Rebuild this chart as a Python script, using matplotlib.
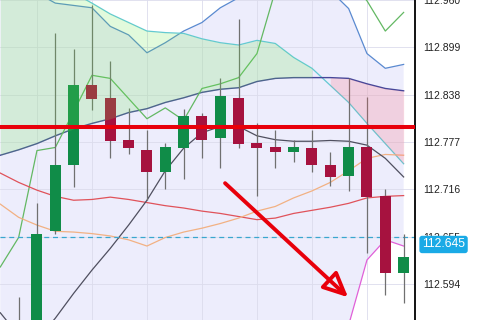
import matplotlib.pyplot as plt
import numpy as np

plt.rcParams['font.family'] = ['Liberation Sans', 'DejaVu Sans']

# candles, slots 1..22 (slot 0 is the left edge of the chart)
idx = np.arange(1, 23)
opens  = [112.500, 112.520, 112.663, 112.748, 112.851, 112.834, 112.780, 112.767, 112.739, 112.769, 112.810,
          112.782, 112.834, 112.776, 112.770, 112.764, 112.769, 112.748, 112.733, 112.771, 112.708, 112.608]
highs  = [112.577, 112.699, 112.917, 112.897, 112.953, 112.881, 112.821, 112.792, 112.776, 112.820, 112.814,
          112.859, 112.935, 112.802, 112.793, 112.779, 112.792, 112.764, 112.859, 112.835, 112.716, 112.658]
lows   = [112.480, 112.500, 112.659, 112.719, 112.818, 112.757, 112.761, 112.702, 112.717, 112.730, 112.756,
          112.744, 112.769, 112.708, 112.743, 112.751, 112.739, 112.720, 112.714, 112.634, 112.580, 112.570]
closes = [112.530, 112.658, 112.747, 112.850, 112.832, 112.778, 112.769, 112.739, 112.771, 112.810, 112.780,
          112.836, 112.775, 112.769, 112.764, 112.770, 112.748, 112.732, 112.770, 112.706, 112.608, 112.629]

# indicator lines, slots 0..22
slots = np.arange(0, 23)
bb_upper = [112.998, 112.985, 112.969, 112.956, 112.953, 112.950, 112.926, 112.915, 112.892, 112.905, 112.920, 112.931,
            112.950, 112.963, 112.978, 112.991, 112.998, 112.991, 112.972, 112.949, 112.891, 112.872, 112.877]
bb_lower = [112.471, 112.458, 112.445, 112.445, 112.451, 112.458, 112.464, 112.471, 112.477, 112.483, 112.490, 112.496,
            112.496, 112.503, 112.503, 112.509, 112.509, 112.516, 112.522, 112.541, 112.625, 112.651, 112.643]
span_a = [113.036, 113.017, 112.998, 112.982, 112.969, 112.956, 112.942, 112.931, 112.920, 112.918, 112.917, 112.910,
          112.905, 112.902, 112.908, 112.904, 112.886, 112.872, 112.850, 112.828, 112.801, 112.775, 112.749]
span_b = [112.760, 112.767, 112.775, 112.785, 112.794, 112.801, 112.807, 112.815, 112.820, 112.828, 112.834, 112.841,
          112.845, 112.847, 112.855, 112.859, 112.860, 112.860, 112.860, 112.859, 112.852, 112.846, 112.843]
tenkan = [112.616, 112.654, 112.766, 112.770, 112.816, 112.863, 112.859, 112.833, 112.807, 112.821, 112.805, 112.846,
          112.852, 112.860, 112.891, 112.972, 113.010, 113.023, 113.010, 112.985, 112.959, 112.920, 112.944]
ma_red = [112.737, 112.725, 112.715, 112.707, 112.702, 112.703, 112.706, 112.703, 112.699, 112.695, 112.692, 112.688,
          112.685, 112.681, 112.677, 112.679, 112.685, 112.689, 112.693, 112.698, 112.705, 112.707, 112.708]
ma_tan = [112.697, 112.680, 112.670, 112.662, 112.661, 112.659, 112.656, 112.651, 112.643, 112.654, 112.661, 112.666,
          112.672, 112.679, 112.688, 112.694, 112.705, 112.714, 112.725, 112.740, 112.756, 112.761, 112.760]
lag_line = [112.557, 112.528, 112.522, 112.550, 112.582, 112.612, 112.640, 112.670, 112.702, 112.740, 112.769, 112.789,
            112.797, 112.797, 112.785, 112.780, 112.778, 112.778, 112.779, 112.778, 112.773, 112.756, 112.732]

level = 112.797
last_price = 112.654
last_label = 112.645
price_ticks = [112.594, 112.655, 112.716, 112.777, 112.838, 112.899, 112.960]

fig = plt.figure(figsize=(4.78, 3.2), dpi=100)
ax = fig.add_axes([0, 0, 415 / 478, 1])

a = np.array(span_a)
b = np.array(span_b)

# bollinger band background
ax.fill_between(slots, bb_lower, bb_upper, color='#ededfc', lw=0, zorder=0.2)
ax.plot(slots, bb_upper, color='#5a8ad0', lw=0.9, zorder=1)
ax.plot(slots, bb_lower, color='#e060d8', lw=0.9, zorder=1)

ax.plot(slots, span_a, color='#63c9d3', lw=0.9, zorder=1)
ax.plot(slots, span_b, color='#45479a', lw=1.0, zorder=1)
ax.plot(slots, tenkan, color='#63b863', lw=0.9, zorder=1)
ax.plot(slots, ma_red, color='#e0525a', lw=0.9, zorder=1)
ax.plot(slots, ma_tan, color='#f2b183', lw=0.9, zorder=1)
ax.plot(slots, lag_line, color='#4f4f5f', lw=0.9, zorder=1)

ax.axhline(last_price, color='#3aa7cf', lw=0.9, ls=(0, (4, 3)), zorder=1.5)

# candles
up = np.array(closes) >= np.array(opens)
cols = np.where(up, '#108c48', '#a6123f')
ax.vlines(idx, lows, highs, color='#707070', lw=0.9, zorder=1.8)
ax.bar(idx, np.array(closes) - np.array(opens), bottom=opens, width=0.6, color=cols, lw=0, zorder=2)

# cloud on top of the candles
ax.fill_between(slots, a, b, where=a >= b, color=(110 / 255, 230 / 255, 80 / 255), alpha=0.2, lw=0, zorder=3)
ax.fill_between(slots, a, b, where=a < b, color=(1.0, 96 / 255, 112 / 255), alpha=0.2, lw=0, zorder=3)

ax.axhline(level, color='#e8000b', lw=2.9, zorder=5)

ax.annotate('', xy=(18.97, 112.577), xytext=(12.26, 112.724),
            arrowprops=dict(arrowstyle='-|>,head_length=1.5,head_width=0.7', lw=2.8,
                            ec='#e8000b', fc='none', shrinkA=0, shrinkB=0), zorder=6)

ax.set_xlim(-0.016, 22.62)
ax.set_ylim(112.5477, 112.959)

ax.set_xticks([2, 5, 8, 11, 14, 17, 20])
ax.set_yticks(price_ticks)
ax.set_yticklabels(['%.3f' % t for t in price_ticks])
ax.yaxis.tick_right()
ax.tick_params(axis='x', length=0, labelbottom=False)
ax.tick_params(axis='y', length=0, pad=6, labelsize=7.5, labelcolor='#222222')
ax.set_axisbelow(True)
ax.grid(color='#dcdcec', lw=0.6)

for s in ['top', 'left', 'bottom']:
    ax.spines[s].set_visible(False)
ax.spines['right'].set_color('black')
ax.spines['right'].set_linewidth(1.3)

ax.text(1.017, last_label, '%.3f' % last_label, transform=ax.get_yaxis_transform(),
        ha='left', va='center', color='white', fontsize=8.8, clip_on=False, zorder=7,
        bbox=dict(boxstyle='round,pad=0.22', fc='#1aaae6', ec='none'))

plt.savefig('out.png', dpi=100)
